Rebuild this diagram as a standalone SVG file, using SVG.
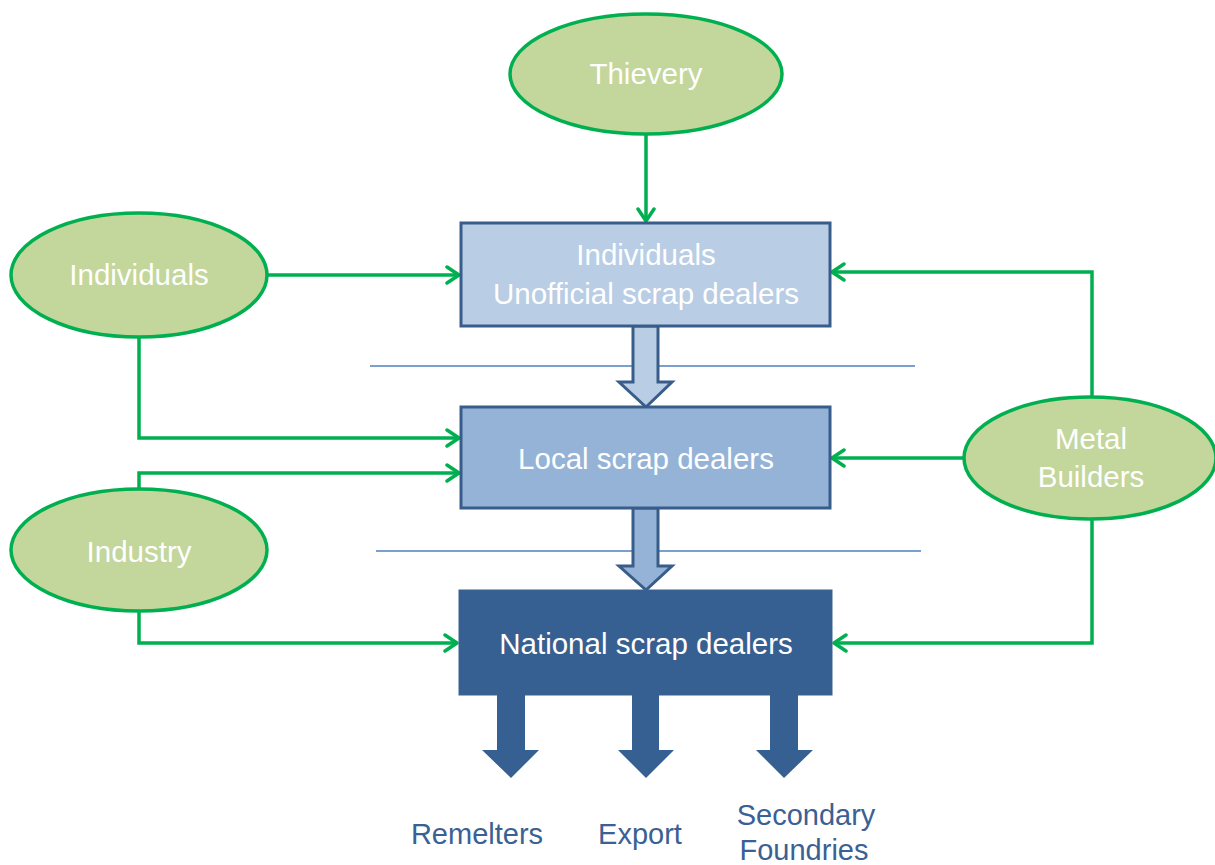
<svg xmlns="http://www.w3.org/2000/svg" width="1215" height="865" viewBox="0 0 1215 865">
  <style>
    .src { fill: #C3D69B; stroke: #00B050; stroke-width: 3.5; }
    .lbl { font-family: "Liberation Sans", Arial, sans-serif; font-size: 29.5px; fill: #FFFFFF; text-anchor: middle; }
    .out { font-family: "Liberation Sans", Arial, sans-serif; font-size: 29px; fill: #3A6193; text-anchor: middle; }
    .flow { fill: none; stroke: #00B050; stroke-width: 3.5; marker-end: url(#chev); }
    .sep { stroke: #4F81BD; stroke-width: 1.5; }
    .blk { stroke: #385D8A; stroke-width: 3; stroke-linejoin: miter; }
  </style>
  <defs>
    <marker id="chev" markerUnits="userSpaceOnUse" markerWidth="20" markerHeight="20" viewBox="-14 -10 16 20" refX="0" refY="0" orient="auto">
      <path d="M-12,-8 L0,0 L-12,8" fill="none" stroke="#00B050" stroke-width="3.5" stroke-linecap="round" stroke-linejoin="round"/>
    </marker>
  </defs>

  <rect width="1215" height="865" fill="#FFFFFF"/>

  <!-- separator rules between tiers -->
  <line class="sep" x1="370" y1="366" x2="915" y2="366"/>
  <line class="sep" x1="376" y1="551" x2="921" y2="551"/>

  <!-- green supply connectors -->
  <g id="connectors">
    <line class="flow" x1="646" y1="135" x2="646" y2="221"/>
    <polyline class="flow" points="268,275 459,275"/>
    <polyline class="flow" points="139,337 139,438 459,438"/>
    <polyline class="flow" points="139,489 139,473 459,473"/>
    <polyline class="flow" points="139,611 139,643 457,643"/>
    <polyline class="flow" points="1092,396 1092,272 832,272"/>
    <polyline class="flow" points="963,458 832,458"/>
    <polyline class="flow" points="1092,519 1092,643 834,643"/>
  </g>

  <!-- block arrows between tiers -->
  <g id="tier-arrows">
    <path class="blk" fill="#B9CDE5" d="M633,326 L633,382 L619,382 L646,407 L672,382 L658,382 L658,326 Z"/>
    <path class="blk" fill="#95B3D7" d="M633,508 L633,566 L619,566 L646,590 L672,566 L658,566 L658,508 Z"/>
  </g>

  <g id="thievery">
    <ellipse class="src" cx="646" cy="74" rx="136" ry="60"/>
    <text class="lbl" x="646" y="84">Thievery</text>
  </g>

  <g id="individuals">
    <ellipse class="src" cx="139" cy="275" rx="128" ry="62"/>
    <text class="lbl" x="139" y="285">Individuals</text>
  </g>

  <g id="industry">
    <ellipse class="src" cx="139" cy="550" rx="128" ry="61"/>
    <text class="lbl" x="139" y="562">Industry</text>
  </g>

  <g id="metal-builders">
    <ellipse class="src" cx="1090" cy="458" rx="126" ry="61"/>
    <text class="lbl" x="1091" y="449">Metal</text>
    <text class="lbl" x="1091" y="487">Builders</text>
  </g>

  <g id="unofficial-dealers">
    <rect x="461" y="223" width="369" height="103" fill="#B9CDE5" stroke="#385D8A" stroke-width="3"/>
    <text class="lbl" x="646" y="265">Individuals</text>
    <text class="lbl" x="646" y="304">Unofficial scrap dealers</text>
  </g>

  <g id="local-dealers">
    <rect x="461" y="407" width="369" height="101" fill="#95B3D7" stroke="#385D8A" stroke-width="3"/>
    <text class="lbl" x="646" y="469">Local scrap dealers</text>
  </g>

  <g id="national-dealers">
    <rect x="459" y="590" width="373" height="105" fill="#376092" stroke="#3A6290" stroke-width="1"/>
    <text class="lbl" x="646" y="654">National scrap dealers</text>
  </g>

  <!-- outlets of the national dealers -->
  <g id="outlets" fill="#376092">
    <path d="M497,694 L497,750 L482,750 L511,778 L539,750 L525,750 L525,694 Z"/>
    <path d="M632,694 L632,750 L618,750 L646,778 L674,750 L659,750 L659,694 Z"/>
    <path d="M770,694 L770,750 L756,750 L784,778 L813,750 L798,750 L798,694 Z"/>
  </g>

  <g id="remelters">
    <text class="out" x="477" y="844">Remelters</text>
  </g>
  <g id="export">
    <text class="out" x="640" y="844">Export</text>
  </g>
  <g id="secondary-foundries">
    <text class="out" x="806" y="825">Secondary</text>
    <text class="out" x="804" y="860">Foundries</text>
  </g>
</svg>
